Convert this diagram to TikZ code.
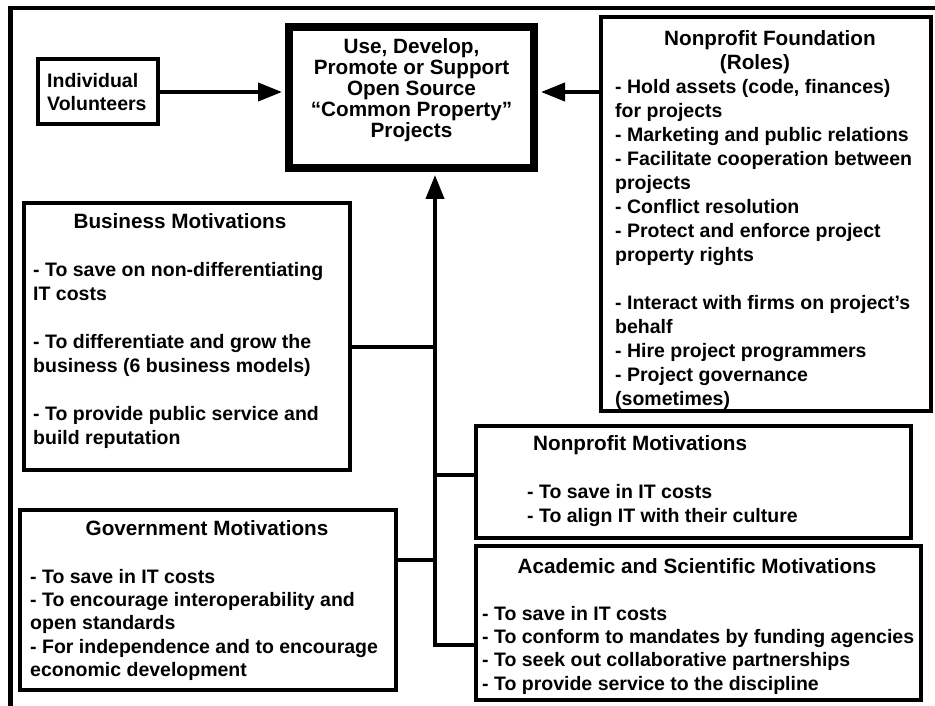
\documentclass[tikz,border=0pt]{standalone}
\usepackage{fontspec}
\setmainfont{Liberation Sans}
\usetikzlibrary{arrows.meta}
\newcommand\ts{\rule{0pt}{17pt}}
\begin{document}
\begin{tikzpicture}[x=1pt,y=-1pt,
  box/.style={draw, line width=4pt, rectangle, inner sep=0pt},
  conn/.style={line width=4pt},
  arr/.style={line width=4pt, -{Triangle[length=24pt,width=18pt]}, shorten >=3pt},
  body/.style={anchor=north west, inner sep=0pt, align=left, font=\bfseries\fontsize{19.5}{24}\selectfont},
  tbody/.style={body, font=\bfseries\fontsize{19.5}{23.3}\selectfont},
  ttl/.style={anchor=north, inner sep=0pt, align=center, font=\bfseries\fontsize{20.7}{24}\selectfont},
]
\useasboundingbox (0,0) rectangle (935,706);
% frame
\draw[line width=4.5pt] (10.5,706) -- (10.5,8) -- (935,8);

% boxes
\node[box, minimum width=120pt, minimum height=65pt] (iv) at (97.5,92) {};
\node[box, line width=8pt, minimum width=245pt, minimum height=141pt] (cp) at (411.5,97.5) {};
\node[box, minimum width=330pt, minimum height=393.5pt] (nf) at (765.5,214.25) {};
\node[box, minimum width=326pt, minimum height=266.5pt] (bm) at (186.5,336.25) {};
\node[box, minimum width=435pt, minimum height=112pt] (npm) at (693,481.5) {};
\node[box, minimum width=445pt, minimum height=154pt] (ac) at (698,622.5) {};
\node[box, minimum width=376pt, minimum height=180pt] (gm) at (207.5,599.5) {};

% texts
\node[body, font=\bfseries\fontsize{19.5}{23}\selectfont] (ivt) at (47,70) {\ts Individual\\Volunteers};
\node[ttl, font=\bfseries\fontsize{20.7}{21}\selectfont] (cpt) at (411.5,36) {\ts Use, Develop,\\Promote or Support\\Open Source\\“Common Property”\\Projects};
\node[ttl] (nft) at (770,28) {\ts Nonprofit Foundation\\(Roles)\hspace*{30pt}};
\node[body] (nfb) at (615,76) {\ts - Hold assets (code, finances)\\for projects\\- Marketing and public relations\\- Facilitate cooperation between\\projects\\- Conflict resolution\\- Protect and enforce project\\property rights\\[24pt]- Interact with firms on project’s\\behalf\\- Hire project programmers\\- Project governance\\(sometimes)};
\node[ttl] (bmt) at (180,211) {\ts Business Motivations};
\node[body] (bmb) at (33,259) {\ts - To save on non-differentiating\\IT costs\\[24pt]- To differentiate and grow the\\business (6 business models)\\[24pt]- To provide public service and\\build reputation};
\node[ttl, anchor=north west] (npmt) at (533,433) {\ts Nonprofit Motivations};
\node[body] (npmb) at (527,481) {\ts - To save in IT costs\\- To align IT with their culture};
\node[ttl] (act) at (697,556) {\ts Academic and Scientific Motivations};
\node[tbody] (acb) at (482,603) {\ts - To save in IT costs\\- To conform to mandates by funding agencies\\- To seek out collaborative partnerships\\- To provide service to the discipline};
\node[ttl] (gmt) at (207,518) {\ts Government Motivations};
\node[tbody] (gmb) at (30,566) {\ts - To save in IT costs\\- To encourage interoperability and\\open standards\\- For independence and to encourage\\economic development};

% connectors
\coordinate (jb) at (435,347);
\coordinate (jn) at (435,475);
\coordinate (jg) at (435,560);
\coordinate (jt) at (435,645);
\draw[arr] (ac.west |- jt) -- (jt) -- (jt |- cp.south);
\draw[conn] (bm.east |- jb) -- (jb);
\draw[conn] (jn) -- (npm.west |- jn);
\draw[conn] (gm.east |- jg) -- (jg);
\draw[arr] (iv.east) -- (iv.east -| cp.west);
\draw[arr] (nf.west |- iv.east) -- (cp.east |- iv.east);
\end{tikzpicture}
\end{document}
